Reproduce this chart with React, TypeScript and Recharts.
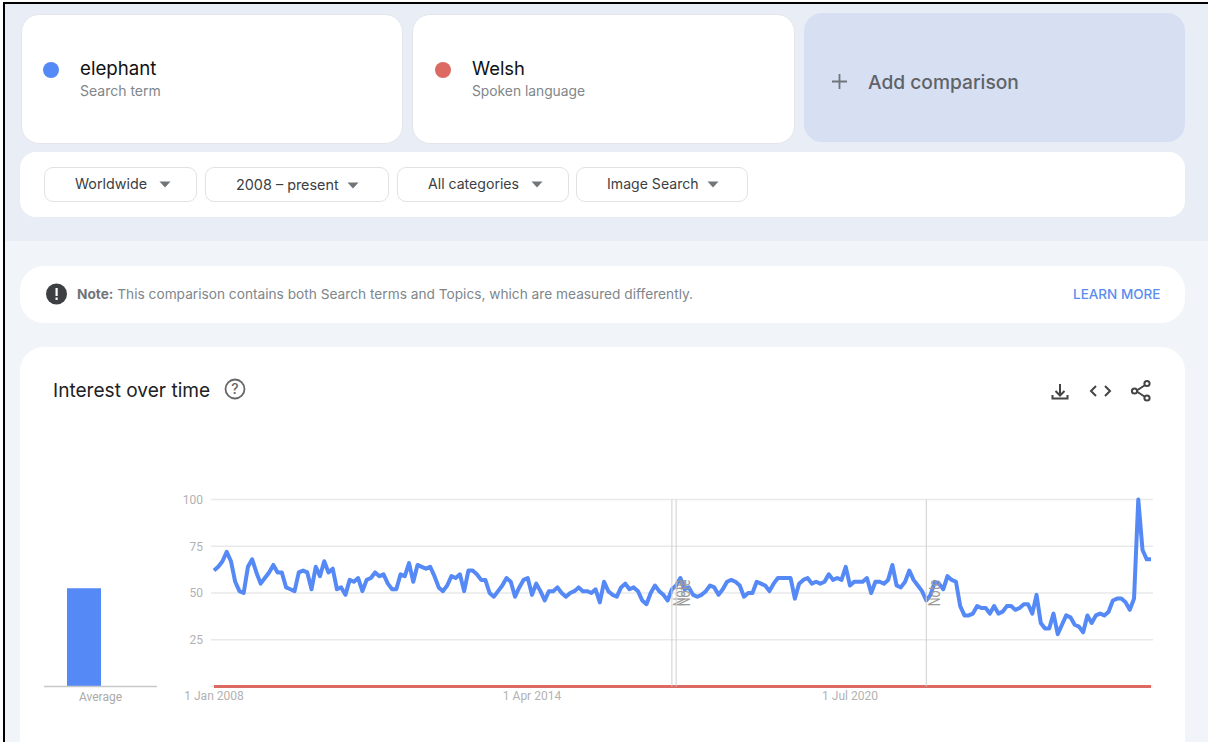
import React from 'react';
import { BarChart, Bar, LineChart, Line, XAxis, YAxis, CartesianGrid, ReferenceLine } from 'recharts';

const monthNames = ['Jan', 'Feb', 'Mar', 'Apr', 'May', 'Jun', 'Jul', 'Aug', 'Sep', 'Oct', 'Nov', 'Dec'];

const elephant = [
  62, 64, 67, 72, 67, 56, 51, 50, 64, 68,
  61, 55, 58, 61, 65, 61, 61, 53, 52, 51,
  61, 62, 61, 52, 64, 59, 67, 61, 63, 52,
  53, 49, 57, 56, 58, 51, 57, 58, 61, 59,
  60, 55, 52, 52, 60, 59, 66, 56, 65, 64,
  63, 64, 59, 53, 51, 54, 59, 58, 60, 51,
  62, 62, 60, 57, 57, 50, 48, 51, 54, 58,
  56, 48, 53, 57, 58, 49, 55, 51, 46, 51,
  51, 53, 50, 48, 50, 51, 53, 51, 51, 50,
  52, 45, 56, 51, 49, 48, 53, 55, 52, 53,
  51, 46, 44, 50, 54, 51, 49, 46, 52, 54,
  58, 52, 53, 49, 48, 49, 51, 54, 53, 49,
  52, 56, 57, 56, 54, 48, 50, 50, 56, 55,
  54, 51, 55, 58, 58, 58, 58, 47, 55, 57,
  58, 55, 56, 55, 56, 60, 57, 58, 57, 64,
  54, 56, 56, 56, 58, 50, 56, 56, 55, 57,
  65, 54, 53, 56, 62, 57, 54, 51, 46, 49,
  56, 55, 52, 59, 57, 56, 43, 38, 38, 39,
  43, 42, 42, 39, 43, 39, 40, 43, 43, 41,
  42, 44, 44, 39, 49, 34, 31, 31, 39, 28,
  33, 38, 37, 33, 32, 29, 38, 34, 38, 39,
  38, 40, 46, 47, 47, 45, 41, 47, 100, 73,
  68, 68,
];

const welsh = [
  0, 0, 0, 0, 0, 0, 0, 0, 0, 0, 0, 0, 0, 0, 0, 0, 0, 0, 0, 0,
  0, 0, 0, 0, 0, 0, 0, 0, 0, 0, 0, 0, 0, 0, 0, 0, 0, 0, 0, 0,
  0, 0, 0, 0, 0, 0, 0, 0, 0, 0, 0, 0, 0, 0, 0, 0, 0, 0, 0, 0,
  0, 0, 0, 0, 0, 0, 0, 0, 0, 0, 0, 0, 0, 0, 0, 0, 0, 0, 0, 0,
  0, 0, 0, 0, 0, 0, 0, 0, 0, 0, 0, 0, 0, 0, 0, 0, 0, 0, 0, 0,
  0, 0, 0, 0, 0, 0, 0, 0, 0, 0, 0, 0, 0, 0, 0, 0, 0, 0, 0, 0,
  0, 0, 0, 0, 0, 0, 0, 0, 0, 0, 0, 0, 0, 0, 0, 0, 0, 0, 0, 0,
  0, 0, 0, 0, 0, 0, 0, 0, 0, 0, 0, 0, 0, 0, 0, 0, 0, 0, 0, 0,
  0, 0, 0, 0, 0, 0, 0, 0, 0, 0, 0, 0, 0, 0, 0, 0, 0, 0, 0, 0,
  0, 0, 0, 0, 0, 0, 0, 0, 0, 0, 0, 0, 0, 0, 0, 0, 0, 0, 0, 0,
  0, 0, 0, 0, 0, 0, 0, 0, 0, 0, 0, 0, 0, 0, 0, 0, 0, 0, 0, 0,
  0, 0,
];

const months = elephant.map((_, i) => `1 ${monthNames[i % 12]} ${2008 + Math.floor(i / 12)}`);
const xTicks = ['1 Jan 2008', '1 Apr 2014', '1 Jul 2020'];
const yTicks = [25, 50, 75, 100];
const noteMonths = ['1 Jan 2017', '1 Feb 2017', '1 Jan 2022'];

const averageLabels = ['Average'];
const averageElephant = [52.5];
const averageWelsh = [0];

const filters = ['Worldwide', '2008 – present', 'All categories', 'Image Search'];

const chartData = months.map((month, i) => ({ month, elephant: elephant[i], welsh: welsh[i] }));
const averageData = averageLabels.map((label, i) => ({
  label,
  elephant: averageElephant[i],
  welsh: averageWelsh[i],
}));

const BLUE = '#5589f6';
const RED = '#dc6a62';
const FONT = 'Inter, Roboto, sans-serif';

function T({ x, y, size, color, weight, children }: any) {
  // y is the vertical centre of the text
  return (
    <span
      style={{
        position: 'absolute',
        left: x,
        top: y - 15,
        lineHeight: '30px',
        fontSize: size,
        color,
        fontWeight: weight || 400,
        fontFamily: FONT,
        whiteSpace: 'nowrap',
      }}
    >
      {children}
    </span>
  );
}

function Box({ x, y, w, h, r, bg = '#fff', border }: any) {
  return (
    <div
      style={{
        position: 'absolute',
        left: x,
        top: y,
        width: w,
        height: h,
        borderRadius: r,
        background: bg,
        border: border ? `1px solid ${border}` : undefined,
        boxSizing: 'border-box',
      }}
    />
  );
}

function Dot({ x, y, color }: any) {
  return <div style={{ position: 'absolute', left: x - 8, top: y - 8, width: 16, height: 16, borderRadius: 8, background: color }} />;
}

function Caret({ x, y }: any) {
  return (
    <svg style={{ position: 'absolute', left: x, top: y }} width={12} height={7}>
      <path d="M0.5 0.5 H11.5 L6 6.5 Z" fill="#70757a" />
    </svg>
  );
}

function Icons() {
  const s = { fill: 'none', stroke: '#444', strokeWidth: 2 };
  return (
    <svg style={{ position: 'absolute', left: 0, top: 0, pointerEvents: 'none' }} width={1208} height={742}>
      {/* help */}
      <circle cx={235} cy={389} r={9.5} fill="none" stroke="#666" strokeWidth={1.8} />
      <text x={235} y={394} textAnchor="middle" fontSize={14} fontWeight={500} fill="#666" fontFamily={FONT}>?</text>
      {/* note */}
      <circle cx={56.5} cy={294} r={10.5} fill="#3c4043" />
      <rect x={55.5} y={288} width={2.2} height={8} fill="#fff" />
      <rect x={55.5} y={297.5} width={2.2} height={2.4} fill="#fff" />
      {/* plus */}
      <path d="M839.5 74 V89 M832 81.5 H847" stroke="#70757a" strokeWidth={1.8} fill="none" />
      {/* download */}
      <path d="M1060 384 V395 M1055.5 391 L1060 395.5 L1064.5 391" {...s} />
      <path d="M1052.5 395 V398.5 H1067.5 V395" {...s} />
      {/* code */}
      <path d="M1096 386 L1091 391 L1096 396 M1105 386 L1110 391 L1105 396" {...s} />
      {/* share */}
      <path d="M1136 391 L1146 384.5 M1136 391 L1146 397.5" {...s} />
      <circle cx={1134.5} cy={391} r={2.6} {...s} fill="#fff" />
      <circle cx={1147} cy={383.5} r={2.6} {...s} fill="#fff" />
      <circle cx={1147} cy={398} r={2.6} {...s} fill="#fff" />
    </svg>
  );
}

// vertical annotation line with the rotated "Note" marker beside it
function noteLine(props: any) {
  const { x1, y1, y2 } = props;
  const tx = x1 + 8;
  const ty = (y1 + y2) / 2;
  return (
    <g>
      <line x1={x1} y1={y1} x2={x1} y2={y2} stroke="#cfcfcf" strokeWidth={1} />
      <text
        transform={`translate(${tx} ${ty}) rotate(-90) scale(1 1.25)`}
        textAnchor="middle"
        dominantBaseline="central"
        fontSize={12.5}
        fill="#9a9a9a"
        fontFamily="Roboto, sans-serif"
      >
        Note
      </text>
    </g>
  );
}

export default function App() {
  const tick = { fontSize: 12, fill: '#b2b2b2', fontFamily: 'Roboto, sans-serif' };
  return (
    <div style={{ position: 'absolute', left: 0, top: 0, width: 1208, height: 742, overflow: 'hidden', background: '#fff' }}>
      <div style={{ position: 'absolute', left: 3, top: 2, right: 0, bottom: 0, background: '#f1f4f9', borderTop: '2px solid #000', borderLeft: '2px solid #000' }} />
      <div style={{ position: 'absolute', left: 5, top: 4, right: 0, height: 237, background: '#e9edf6' }} />

      <Box x={21} y={14} w={382} h={130} r={18} border="#e3e5ea" />
      <Box x={412} y={14} w={383} h={130} r={18} border="#e3e5ea" />
      <Box x={804} y={13} w={381} h={129} r={18} bg="#d7dff3" />
      <Box x={20} y={152} w={1165} h={65} r={16} />
      <Box x={20} y={266} w={1165} h={57} r={24} />
      <Box x={20} y={347} w={1165} h={395} r="24px 24px 0 0" />

      <Dot x={51} y={70} color={BLUE} />
      <T x={80} y={69} size={18.7} color="#111">elephant</T>
      <T x={80} y={91} size={14} color="#80868b">Search term</T>
      <Dot x={443} y={70} color={RED} />
      <T x={472} y={68} size={18.4} color="#111">Welsh</T>
      <T x={472} y={91} size={13.8} color="#80868b">Spoken language</T>
      <T x={868} y={82} size={19.2} color="#5f6368" weight={500}>Add comparison</T>

      <Box x={44} y={167} w={153} h={35} r={9} border="#e0e2e6" />
      <Box x={205} y={167} w={184} h={35} r={9} border="#e0e2e6" />
      <Box x={397} y={167} w={172} h={35} r={9} border="#e0e2e6" />
      <Box x={576} y={167} w={172} h={35} r={9} border="#e0e2e6" />
      <T x={75} y={184} size={14.3} color="#3c4043">{filters[0]}</T>
      <T x={236} y={185} size={14.4} color="#3c4043">{filters[1]}</T>
      <T x={428} y={184} size={14.1} color="#3c4043">{filters[2]}</T>
      <T x={607} y={184} size={14.1} color="#3c4043">{filters[3]}</T>
      <Caret x={159} y={181} />
      <Caret x={347} y={182} />
      <Caret x={531} y={181} />
      <Caret x={707} y={181} />

      <T x={77} y={294} size={13.7} color="#80868b">
        <b style={{ color: '#70757a' }}>Note:</b> This comparison contains both Search terms and Topics, which are measured differently.
      </T>
      <T x={1073} y={294} size={13.5} color="#5b8def" weight={500}>LEARN MORE</T>

      <T x={53} y={390} size={19.1} color="#202124">Interest over time</T>
      <Icons />

      <div style={{ position: 'absolute', left: 44, top: 490 }}>
        <BarChart
          width={113}
          height={220}
          data={averageData}
          margin={{ top: 9.5, right: 0, bottom: 3.5, left: 0 }}
          barSize={34}
          barGap={0}
        >
          <XAxis
            dataKey="label"
            height={20}
            tickLine={false}
            tickSize={4}
            axisLine={{ stroke: '#c8c8c8', strokeWidth: 1.5 }}
            tick={{ ...tick, fill: '#aaa' }}
            interval={0}
          />
          <YAxis hide domain={[0, 100]} />
          <Bar dataKey="elephant" fill={BLUE} isAnimationActive={false} />
          <Bar dataKey="welsh" fill={RED} isAnimationActive={false} />
        </BarChart>
      </div>

      <div style={{ position: 'absolute', left: 160, top: 490 }}>
        <LineChart
          width={1000}
          height={220}
          data={chartData}
          margin={{ top: 9.5, right: 7, bottom: 3.5, left: 0 }}
        >
          <CartesianGrid vertical={false} stroke="#e9e9e9" strokeWidth={1.4} />
          <XAxis
            dataKey="month"
            ticks={xTicks}
            interval={0}
            height={20}
            padding={{ left: 3, right: 2 }}
            tickLine={false}
            tickSize={3}
            axisLine={false}
            tick={tick}
          />
          <YAxis
            width={51}
            domain={[0, 100]}
            ticks={yTicks}
            tickLine={false}
            axisLine={false}
            tick={tick}
          />
          <Line dataKey="welsh" stroke={RED} strokeWidth={3} dot={false} isAnimationActive={false} />
          <Line dataKey="elephant" stroke={BLUE} strokeWidth={4} dot={false} strokeLinejoin="round" isAnimationActive={false} />
          {noteMonths.map((m) => (
            <ReferenceLine key={m} x={m} shape={noteLine} />
          ))}
        </LineChart>
      </div>
    </div>
  );
}
